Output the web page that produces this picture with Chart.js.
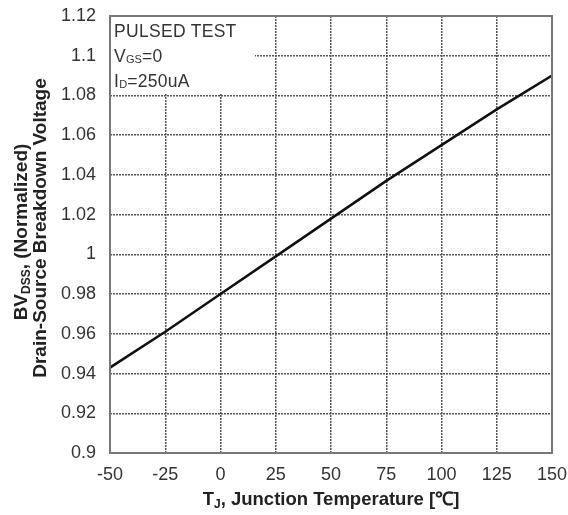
<!DOCTYPE html>
<html>
<head>
<meta charset="utf-8">
<script src="https://cdn.jsdelivr.net/npm/chart.js@4.4.1/dist/chart.umd.min.js"></script>
<style>
    html, body { margin: 0; padding: 0; background: #fff; }
    #wrap { position: relative; width: 568px; height: 515px; font-family: "Liberation Sans", Arial, sans-serif; color: #222; }
    #wrap canvas { position: absolute; left: 0; top: 0; }
    .note { position: absolute; left: 114px; font-size: 17.5px; line-height: 17px; letter-spacing: 0.3px; white-space: nowrap; color: #333; }
    .note sub { font-size: 11px; position: relative; top: 1px; vertical-align: baseline; line-height: 0; letter-spacing: 0; }
    .ytitle { position: absolute; white-space: nowrap; font-weight: bold; font-size: 19px; line-height: 19px; transform: translate(-50%, -50%) rotate(-90deg); color: #222; }
    .ytitle sub { font-size: 12px; position: relative; top: 3px; vertical-align: baseline; line-height: 0; }
    #xtitle { position: absolute; left: 331px; top: 499px; transform: translate(-50%, -50%); white-space: nowrap; font-weight: bold; font-size: 18.5px; line-height: 18px; color: #222; }
    #xtitle sub { font-size: 12px; position: relative; top: 3px; vertical-align: baseline; line-height: 0; }
</style>
</head>
<body>
<div id="wrap">
    <canvas id="bvChart" width="568" height="515"></canvas>
    <div class="note" style="top:23px">PULSED TEST</div>
    <div class="note" style="top:48px">V<sub>GS</sub>=0</div>
    <div class="note" style="top:73px">I<sub>D</sub>=250uA</div>
    <div class="ytitle" style="left:20px; top:232px">BV<sub>DSS</sub>, (Normalized)</div>
    <div class="ytitle" style="left:39px; top:228px">Drain-Source Breakdown Voltage</div>
    <div id="xtitle">T<sub>J</sub>, Junction Temperature [℃]</div>
</div>
<script>
const temps = [-50, -25, 0, 25, 50, 75, 100, 125, 150];
const bvdss = [0.943, 0.961, 0.980, 0.999, 1.018, 1.037, 1.055, 1.073, 1.090];

const xMin = -50, xMax = 150, xStep = 25;
const yMin = 0.9, yMax = 1.12, yStep = 0.02;

// white box behind the test conditions, plus the solid frame
const framePlugin = {
    id: 'frame',
    beforeDatasetsDraw(chart) {
        const { ctx, chartArea: a } = chart;
        ctx.save();
        ctx.fillStyle = '#fff';
        ctx.fillRect(a.left + 1, a.top + 1, 144, 77);
        ctx.restore();
    },
    afterDraw(chart) {
        const { ctx, chartArea: a } = chart;
        ctx.save();
        ctx.strokeStyle = '#777';
        ctx.lineWidth = 2;
        ctx.strokeRect(a.left, a.top, a.right - a.left, a.bottom - a.top);
        ctx.restore();
    }
};

const tickFont = { family: '"Liberation Sans", Arial', size: 18 };

const ctx = document.getElementById('bvChart').getContext('2d');
const bvChart = new Chart(ctx, {
    type: 'scatter',
    data: {
        datasets: [{
            data: temps.map((t, i) => ({ x: t, y: bvdss[i] })),
            showLine: true,
            borderColor: '#111',
            borderWidth: 2.5,
            pointRadius: 0,
            tension: 0
        }]
    },
    options: {
        responsive: false,
        animation: false,
        events: [],
        layout: { padding: { left: 0, right: 16, top: 16, bottom: 0 } },
        plugins: { legend: { display: false }, tooltip: { enabled: false } },
        scales: {
            x: {
                type: 'linear',
                min: xMin,
                max: xMax,
                ticks: { stepSize: xStep, color: '#333', font: tickFont, padding: 11 },
                grid: { color: '#555', lineWidth: 1.5, drawTicks: false },
                border: { display: false, dash: [2, 1] },
                afterFit(scale) {
                    scale.height = 62;
                    scale.paddingLeft = 0;
                    scale.paddingRight = 0;
                }
            },
            y: {
                min: yMin,
                max: yMax,
                ticks: {
                    stepSize: yStep,
                    color: '#333',
                    font: tickFont,
                    padding: 14,
                    callback: v => String(+v.toFixed(2))
                },
                grid: { color: '#555', lineWidth: 1.5, drawTicks: false },
                border: { display: false, dash: [2, 1] },
                afterFit(scale) {
                    scale.width = 110;
                    scale.paddingTop = 0;
                    scale.paddingBottom = 0;
                }
            }
        }
    },
    plugins: [framePlugin]
});
</script>
</body>
</html>
